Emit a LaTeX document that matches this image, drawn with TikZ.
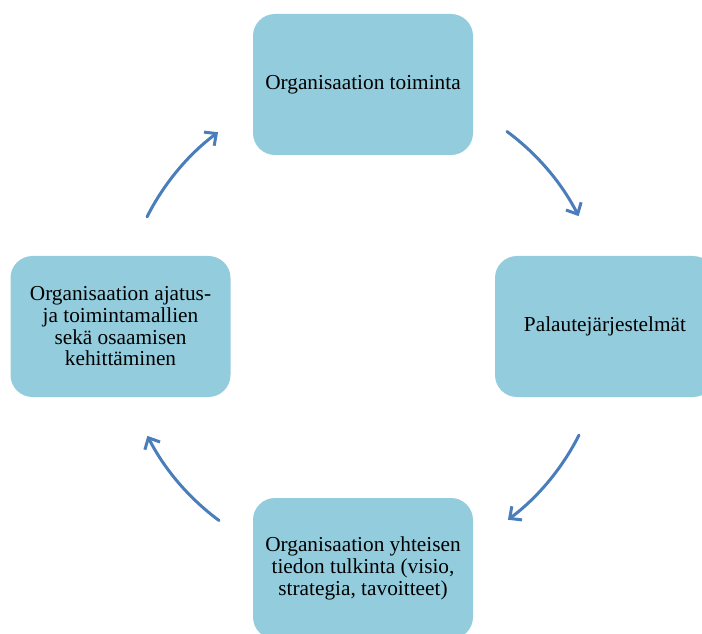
\documentclass[tikz,border=0pt]{standalone}
\usepackage{fontspec}
\setmainfont{Liberation Serif}
\usetikzlibrary{arrows.meta}
\definecolor{boxblue}{HTML}{93CDDD}
\definecolor{arrowblue}{HTML}{4A7EBB}
\tikzset{
  box/.style={fill=boxblue, rounded corners=22pt, minimum width=220pt, minimum height=141pt,
    align=center, inner sep=0pt, font=\fontsize{21.3}{21.7}\selectfont},
  flow/.style={draw=arrowblue, line width=3pt, line cap=round,
    -{Straight Barb[length=9pt,width=17pt,line width=3pt]}}
}
\begin{document}
\begin{tikzpicture}[x=1pt,y=1pt]
\clip (0,0) rectangle (702,633);
\useasboundingbox (0,0) rectangle (702,633);
\node[box] (top) at (363,548.5) {Organisaation toiminta};
\node[box] (right) at (605,306.5) {Palautejärjestelmät};
\node[box] (bottom) at (363,64.5) {Organisaation yhteisen\\tiedon tulkinta (visio,\\strategia, tavoitteet)};
\node[box] (left) at (120.5,306.5) {Organisaation ajatus-\\ja toimintamallien\\sekä osaamisen\\kehittäminen};
\coordinate (c) at (363,307);
\coordinate (a1) at ([shift={(c)}]53.5:242);
\coordinate (a2) at ([shift={(c)}]-26.8:242);
\coordinate (a3) at ([shift={(c)}]233.5:242);
\coordinate (a4) at ([shift={(c)}]153.2:242);
\draw[flow] (a1) arc[start angle=53.5, end angle=27, radius=242];
\draw[flow] (a2) arc[start angle=-26.8, end angle=-53.2, radius=242];
\draw[flow] (a3) arc[start angle=233.5, end angle=207, radius=242];
\draw[flow] (a4) arc[start angle=153.2, end angle=126.8, radius=242];
\end{tikzpicture}
\end{document}
